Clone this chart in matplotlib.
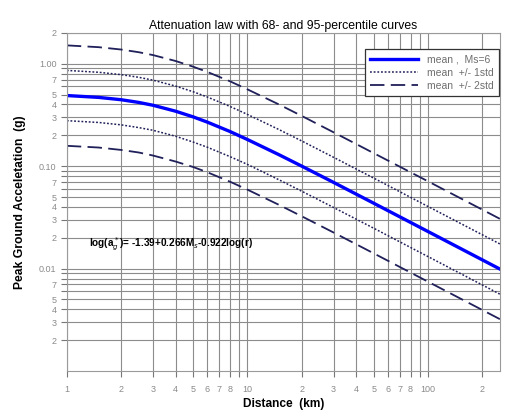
import matplotlib.pyplot as plt
from matplotlib.ticker import FixedLocator, FixedFormatter, NullFormatter

plt.rcParams['font.family'] = ['Liberation Sans', 'DejaVu Sans']

# distance (km) and peak ground acceleration (g)
dist = [1, 1.5, 2, 2.5, 3, 4, 5, 6, 8, 10, 15, 20, 30, 50, 100, 250]
pga_mean = [0.489, 0.469, 0.445, 0.419, 0.393, 0.344, 0.303, 0.269, 0.218, 0.182,
            0.129, 0.100, 0.0694, 0.0435, 0.0230, 0.0099]
pga_p1 = [0.860, 0.825, 0.782, 0.737, 0.691, 0.605, 0.533, 0.473, 0.383, 0.320,
          0.227, 0.176, 0.122, 0.0765, 0.0404, 0.0174]
pga_p2 = [1.51, 1.45, 1.375, 1.295, 1.214, 1.063, 0.936, 0.831, 0.674, 0.562,
          0.399, 0.309, 0.214, 0.134, 0.0711, 0.0306]
pga_m1 = [0.278, 0.267, 0.253, 0.238, 0.224, 0.196, 0.172, 0.153, 0.124, 0.104,
          0.0734, 0.0569, 0.0395, 0.0248, 0.0131, 0.00563]
pga_m2 = [0.158, 0.152, 0.144, 0.136, 0.127, 0.111, 0.0982, 0.0872, 0.0706, 0.0590,
          0.0418, 0.0324, 0.0225, 0.0141, 0.00745, 0.00321]

x_ticks = [1, 2, 3, 4, 5, 6, 7, 8, 9, 10, 20, 30, 40, 50, 60, 70, 80, 90, 100, 200]
x_labels = ['1', '2', '3', '4', '5', '6', '7', '8', '', '10', '2', '3', '4', '5', '6', '7',
            '8', '', '100', '2']
y_ticks = [0.002, 0.003, 0.004, 0.005, 0.006, 0.007, 0.008, 0.009, 0.01,
           0.02, 0.03, 0.04, 0.05, 0.06, 0.07, 0.08, 0.09, 0.1,
           0.2, 0.3, 0.4, 0.5, 0.6, 0.7, 0.8, 0.9, 1.0, 2.0]
y_labels = ['2', '3', '4', '5', '', '7', '', '', '0.01',
            '2', '3', '4', '5', '', '7', '', '', '0.10',
            '2', '3', '4', '5', '', '7', '', '', '1.00', '2']

fig = plt.figure(figsize=(5.06, 4.16), dpi=100)
ax = fig.add_axes([0.132, 0.108, 0.856, 0.813])

navy = '#20205a'
ax.plot(dist, pga_mean, color='#0000ff', lw=2.4, label='mean ,  Ms=6')
ax.plot(dist, pga_p1, color=navy, lw=1.1, ls=(0, (1.2, 1.2)), label='mean  +/- 1std')
ax.plot(dist, pga_m1, color=navy, lw=1.1, ls=(0, (1.2, 1.2)))
ax.plot(dist, pga_p2, color=navy, lw=1.3, ls=(0, (8, 3.5)), label='mean  +/- 2std')
ax.plot(dist, pga_m2, color=navy, lw=1.3, ls=(0, (8, 3.5)))

ax.set_xscale('log')
ax.set_yscale('log')
ax.set_xlim(1, 250)
ax.set_ylim(0.001, 2)

ax.xaxis.set_major_locator(FixedLocator(x_ticks))
ax.xaxis.set_major_formatter(FixedFormatter(x_labels))
ax.xaxis.set_minor_formatter(NullFormatter())
ax.yaxis.set_major_locator(FixedLocator(y_ticks))
ax.yaxis.set_major_formatter(FixedFormatter(y_labels))
ax.yaxis.set_minor_formatter(NullFormatter())
ax.minorticks_off()

ax.tick_params(axis='both', which='major', labelsize=6.5, labelcolor='#8a8a8a',
               color='#777777', length=4, width=0.8)
ax.tick_params(axis='x', pad=6)

ax.grid(True, which='major', color='#8c8c8c', lw=0.8)
for s in ax.spines.values():
    s.set_color('#9a9a9a')
    s.set_linewidth(0.8)

ax.set_title('Attenuation law with 68- and 95-percentile curves', fontsize=8.8, pad=3)
ax.set_xlabel('Distance  (km)', fontsize=8.6, fontweight='bold', labelpad=3)
ax.set_ylabel('Peak Ground Acceletation  (g)', fontsize=8.7, fontweight='bold', labelpad=9)

ax.text(1.32, 0.0173, r'log(a$_g^*$)= -1.39+0.266M$_s$-0.922log(r)',
        fontsize=7.2, fontweight='bold', ha='left', va='center')

leg = ax.legend(loc='upper right', bbox_to_anchor=(0.998, 0.953), borderaxespad=0,
                fontsize=7.5, frameon=True, fancybox=False, framealpha=1,
                handlelength=4.6, labelspacing=0.3, borderpad=0.55)
leg.get_frame().set_edgecolor('#333333')
leg.get_frame().set_linewidth(0.9)
for t in leg.get_texts():
    t.set_color('#6e6e6e')

fig.savefig('out.png', dpi=100)
